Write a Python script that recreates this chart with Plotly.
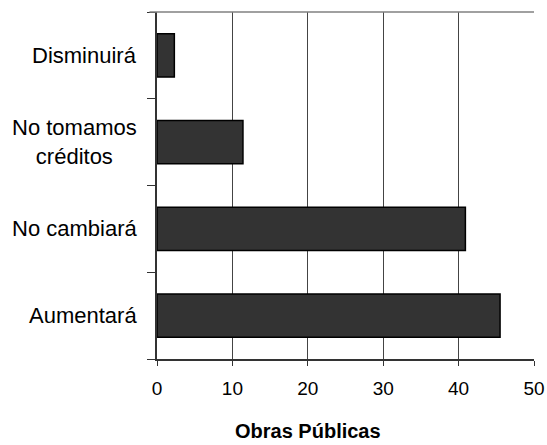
import plotly.graph_objects as go

categories = ["Aumentará", "No cambiará", "No tomamos<br>créditos", "Disminuirá"]
values = [45.5, 40.9, 11.4, 2.3]
x_ticks = [0, 10, 20, 30, 40, 50]
x_title = "Obras Públicas"

fig = go.Figure(go.Bar(
    x=values, y=categories, orientation="h",
    marker=dict(color="#333333", line=dict(color="black", width=1.5)),
    width=0.5,
))

# category labels centred like the original (tick labels can't centre lines)
for c in categories:
    fig.add_annotation(x=0, xref="paper", y=c, yref="y", text=c,
                       showarrow=False, xanchor="right", xshift=-18,
                       align="center",
                       font=dict(family="Liberation Sans, Arial", size=22, color="black"))

fig.add_annotation(x=0.4, xref="paper", y=-0.245, yref="paper", text="<b>%s</b>" % x_title,
                   showarrow=False, xanchor="center", yanchor="bottom",
                   font=dict(family="Liberation Sans, Arial", size=20, color="black"))

# gray frame line on top
fig.add_shape(type="line", xref="paper", yref="paper", x0=-0.02, x1=1, y0=1, y1=1,
              line=dict(color="#808080", width=1.5))

fig.update_xaxes(range=[0, 50], tickvals=x_ticks, showgrid=True, gridcolor="#444",
                 gridwidth=1, showline=True, linecolor="#333", linewidth=1.5,
                 ticks="outside", ticklen=5, tickcolor="#333", zeroline=False,
                 tickfont=dict(family="Liberation Sans, Arial", size=19, color="black"),
                 ticklabelstandoff=6, automargin=False)
fig.update_yaxes(showticklabels=False, tickson="boundaries", ticks="outside",
                 ticklen=8, tickcolor="#333", showline=True, linecolor="#333",
                 linewidth=1.5, showgrid=False, automargin=False)

fig.update_layout(width=547, height=445, margin=dict(l=157, r=13, t=12, b=86),
                  plot_bgcolor="white", paper_bgcolor="white", showlegend=False,
                  bargap=0.5)

fig.write_html("out.html", config={"displayModeBar": False},
               post_script="document.body.style.margin='0';")
